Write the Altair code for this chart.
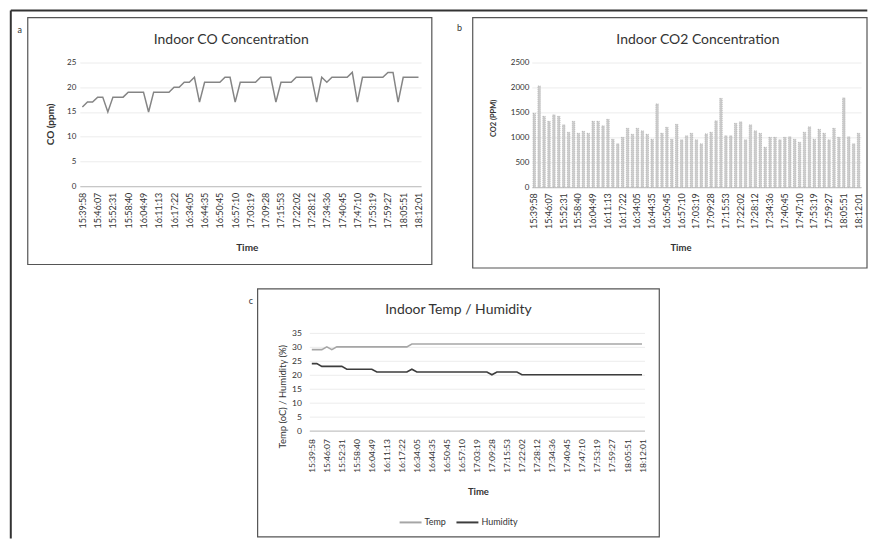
import altair as alt
import pandas as pd

FONT = "Lato"

# ---------------- data ----------------
tick_labels = ["15:39:58", "15:46:07", "15:52:31", "15:58:40", "16:04:49", "16:11:13",
               "16:17:22", "16:34:05", "16:44:35", "16:50:45", "16:57:10", "17:03:19",
               "17:09:28", "17:15:53", "17:22:02", "17:28:12", "17:34:36", "17:40:45",
               "17:47:10", "17:53:19", "17:59:27", "18:05:51", "18:12:01"]

co_ppm = [16, 17, 17, 18, 18, 15, 18, 18, 18, 19, 19, 19, 19, 15, 19, 19, 19, 19, 20, 20,
          21, 21, 22, 17, 21, 21, 21, 21, 22, 22, 17, 21, 21, 21, 21, 22, 22, 22, 17, 21,
          21, 21, 22, 22, 22, 22, 17, 22, 21, 22, 22, 22, 22, 23, 17, 22, 22, 22, 22, 22,
          23, 23, 17, 22, 22, 22, 22]

co2_ppm = [1480, 2030, 1420, 1320, 1450, 1420, 1250, 1100, 1320, 1080,
           1120, 1080, 1320, 1320, 1230, 1360, 960, 870, 1000, 1180,
           1060, 1180, 1130, 1060, 960, 1670, 1080, 1200, 960, 1260,
           950, 1030, 1080, 950, 870, 1070, 1100, 1330, 1780, 1030,
           1030, 1280, 1310, 950, 1250, 1130, 1080, 800, 1000, 1000,
           950, 1000, 1010, 960, 900, 1100, 1210, 960, 1160, 1080,
           950, 1180, 1000, 1790, 1010, 870, 1080]

temp_c = [29, 29, 29, 30, 29, 30, 30, 30, 30, 30, 30, 30, 30, 30, 30, 30, 30, 30, 30, 30,
          31, 31, 31, 31, 31, 31, 31, 31, 31, 31, 31, 31, 31, 31, 31, 31, 31, 31, 31, 31,
          31, 31, 31, 31, 31, 31, 31, 31, 31, 31, 31, 31, 31, 31, 31, 31, 31, 31, 31, 31,
          31, 31, 31, 31, 31, 31, 31]

humidity_pct = [24, 24, 23, 23, 23, 23, 23, 22, 22, 22, 22, 22, 22, 21, 21, 21, 21, 21, 21, 21,
                22, 21, 21, 21, 21, 21, 21, 21, 21, 21, 21, 21, 21, 21, 21, 21, 20, 21, 21, 21,
                21, 21, 20, 20, 20, 20, 20, 20, 20, 20, 20, 20, 20, 20, 20, 20, 20, 20, 20, 20,
                20, 20, 20, 20, 20, 20, 20]

co_ticks = [0, 5, 10, 15, 20, 25]
co2_ticks = [0, 500, 1000, 1500, 2000, 2500]
th_ticks = [0, 5, 10, 15, 20, 25, 30, 35]
series_names = ["Temp", "Humidity"]
series_colors = ["#a6a6a6", "#3d3d3d"]

n = len(co_ppm)
idx = list(range(n))
tick_idx = list(range(0, n, 3))
label_expr = "[" + ",".join("'%s'" % t for t in tick_labels) + "][datum.value / 3]"

df_a = pd.DataFrame({"i": idx, "co": co_ppm})
df_b = pd.DataFrame({"i": idx, "co2": co2_ppm})
df_c = pd.DataFrame({
    "i": idx + idx,
    "series": [series_names[0]] * n + [series_names[1]] * n,
    "value": temp_c + humidity_pct,
})


# ---------------- helpers ----------------
def x_axis(pad, size=9):
    return alt.Axis(values=tick_idx, labelExpr=label_expr, labelAngle=270,
                    labelFont=FONT, labelFontSize=size, labelColor="#333333",
                    labelPadding=pad, labelOverlap=False, ticks=False,
                    domainColor="#bdbdbd", grid=False, title=None)


def y_axis(vals, pad, size=8):
    return alt.Axis(values=vals, format="d", labelFont=FONT, labelFontSize=size,
                    labelColor="#333333", labelPadding=pad, ticks=False, domain=False,
                    grid=True, gridColor="#ececec", title=None)


def txt(s, x, y, size, weight="normal", angle=0, color="#333333"):
    return alt.Chart(pd.DataFrame({"t": [s]})).mark_text(
        font=FONT, fontSize=size, fontWeight=weight, angle=angle, color=color,
        align="center", baseline="middle"
    ).encode(x=alt.value(x), y=alt.value(y), text="t:N")


def frame(x1, x2, y1, y2, color="#555555", w=1.2):
    return alt.Chart(pd.DataFrame({"k": [0]})).mark_rect(
        fillOpacity=0, stroke=color, strokeWidth=w
    ).encode(x=alt.value(x1), x2=alt.value(x2), y=alt.value(y1), y2=alt.value(y2))


def vrule(x, y1, y2, color="#333333", w=2):
    return alt.Chart(pd.DataFrame({"k": [0]})).mark_rule(color=color, strokeWidth=w).encode(
        x=alt.value(x), y=alt.value(y1), y2=alt.value(y2))


def hrule(y, x1, x2, color="#333333", w=2):
    return alt.Chart(pd.DataFrame({"k": [0]})).mark_rule(color=color, strokeWidth=w).encode(
        y=alt.value(y), x=alt.value(x1), x2=alt.value(x2))


# ---------------- panel a ----------------
line_a = alt.Chart(df_a).mark_line(color="#858585", strokeWidth=1.5).encode(
    x=alt.X("i:O", scale=alt.Scale(type="point", padding=0.5), axis=x_axis(6)),
    y=alt.Y("co:Q", scale=alt.Scale(domain=[0, 25], nice=False), axis=y_axis(co_ticks, 4)),
)
panel_a = alt.layer(
    vrule(-69.2, -52, 477),
    hrule(-52, -69.2, 789.3),
    frame(-52.2, 352.8, -45, 202.5),
    line_a,
    txt("Indoor CO Concentration", 151.8, -23, 14),
    txt("CO (ppm)", -29, 62, 10, "bold", 270),
    txt("Time", 167.8, 186, 10, "bold"),
    txt("a", -60.2, -33, 9),
).properties(width=342, height=124)

# ---------------- panel b ----------------
bars_b = alt.Chart(df_b).mark_bar(color="#cdcdcd", stroke="#a0a0a0", strokeWidth=0.6,
                                  strokeDash=[1, 1]).encode(
    x=alt.X("i:O", scale=alt.Scale(paddingInner=0.5, paddingOuter=0.25), axis=x_axis(5.5)),
    y=alt.Y("co2:Q", scale=alt.Scale(domain=[0, 2500], nice=False), axis=y_axis(co2_ticks, 3)),
)
panel_b = alt.layer(
    frame(-59.2, 336, -45, 206),
    bars_b,
    txt("Indoor CO2 Concentration", 166.5, -23, 14),
    txt("CO2 (PPM)", -37.5, 56, 7.5, "bold", 270),
    txt("Time", 149.5, 186, 9.5, "bold"),
    txt("b", -72.5, -35, 9),
).properties(width=330, height=125)

# ---------------- panel c ----------------
# the concat's legend is placed relative to the whole figure
lines_c = alt.Chart(df_c).mark_line(strokeWidth=1.6).encode(
    x=alt.X("i:O", scale=alt.Scale(type="point", padding=0.5), axis=x_axis(8, 8.5)),
    y=alt.Y("value:Q", scale=alt.Scale(domain=[0, 35], nice=False), axis=y_axis(th_ticks, 8, 8.5)),
    color=alt.Color("series:N", sort=series_names,
                    scale=alt.Scale(domain=series_names, range=series_colors),
                    legend=alt.Legend(orient="none", legendX=319.5, legendY=449,
                                      direction="horizontal", title=None,
                                      symbolType="stroke", symbolSize=484,
                                      symbolStrokeWidth=2, labelFont=FONT,
                                      labelFontSize=9, labelColor="#333333",
                                      columnPadding=6, labelOffset=2, padding=0)),
)
panel_c = alt.layer(
    frame(-51.8, 350.8, -44, 204.5),
    lines_c,
    txt("Indoor Temp / Humidity", 149.5, -23, 14),
    txt("Temp (oC) / Humidity (%)", -26.5, 64, 9.5, "normal", 270),
    txt("Time", 169.5, 160, 9.5, "bold"),
    txt("c", -58.5, -32, 9),
).properties(width=336, height=98)

spacer = alt.Chart(pd.DataFrame({"k": [0]})).mark_point(opacity=0).encode(
    x=alt.value(0), y=alt.value(0)).properties(width=219.3, height=98)

top = alt.hconcat(panel_a, panel_b, spacing=111, bounds="flush")
bottom = alt.hconcat(spacer, panel_c, spacing=10, bounds="flush")
# nested concats count as zero height with flush bounds, so the spacing
# covers the top row's plot height (125) plus the gap (146)
chart = alt.vconcat(top, bottom, spacing=271, bounds="flush").properties(
    padding={"left": 1, "top": 0, "right": 0, "bottom": 0}
).configure_view(stroke="transparent")

chart.save("out.html", embed_options={"renderer": "svg", "actions": False})
